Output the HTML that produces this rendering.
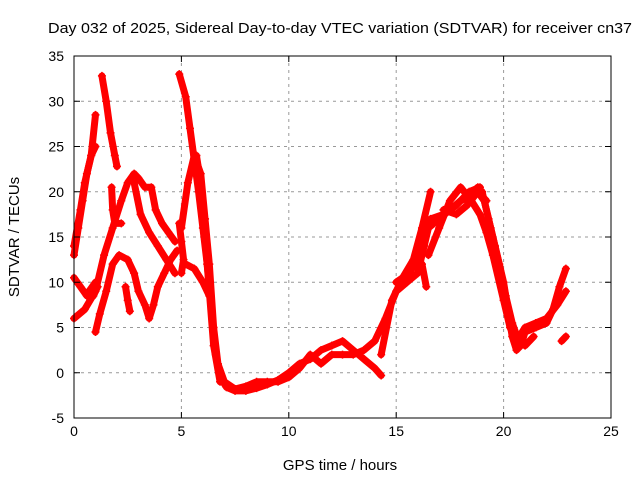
<!DOCTYPE html>
<html><head><meta charset="utf-8"><style>
body{margin:0;background:#fff;}
svg{display:block;font-family:"Liberation Sans",sans-serif;}
</style></head><body>
<svg id="chart" width="640" height="480" xmlns="http://www.w3.org/2000/svg">
<text x="48" y="33" font-size="15" textLength="584" lengthAdjust="spacingAndGlyphs">Day 032 of 2025, Sidereal Day-to-day VTEC variation (SDTVAR) for receiver cn37</text>
<text x="340" y="470" font-size="15" text-anchor="middle">GPS time / hours</text>
<text transform="translate(19,237) rotate(-90)" font-size="15" text-anchor="middle">SDTVAR / TECUs</text>
<g id="grid"></g><g id="marks"></g><g id="axes"></g>
</svg>
<script>
const xTicks=[0,5,10,15,20,25];
const yTicks=[-5,0,5,10,15,20,25,30,35];
const trackA=[[0,10.5],[0.3,9.5],[0.6,8.5],[0.9,8.5],[1.1,9.5],[1.0,10],[0.7,9]];
const trackB=[[0,6],[0.5,7],[1.0,9],[1.4,13],[1.8,16],[2.2,19],[2.5,21],[2.8,22],[3.0,21.5],[3.3,20.5],[3.6,20.5],[3.8,18],[4.1,16.5],[4.4,15.5],[4.7,14.5]];
const trackC=[[1.0,4.5],[1.2,6.5],[1.5,9],[1.8,12],[2.1,13],[2.5,12.5],[2.8,11],[3.0,9],[3.3,7.5],[3.5,6],[3.7,7.5],[3.9,9.5],[4.2,11],[4.5,12.5],[4.8,13.5]];
const trackD=[[2.8,21],[3.1,17.5],[3.5,15.5],[3.9,14],[4.3,12.5],[4.7,11]];
const trackE=[[0,13],[0.2,16],[0.4,19],[0.6,22],[0.8,24],[1.0,25]];
const trackF=[[0,14],[0.3,18],[0.5,21],[0.8,24],[1.0,28.5]];
const trackG=[[1.3,32.8],[1.5,30],[1.7,26.5],[1.9,24],[2.0,22.8]];
const trackH=[[1.75,20.5],[1.8,18],[1.9,16.5],[2.2,16.5]];
const trackI=[[2.4,9.5],[2.5,8],[2.6,6.8]];
const trackJ=[[4.9,16.5],[5.0,14.5],[5.1,12.5],[5.0,11]];
const trackK=[[4.9,33],[5.2,30.5],[5.4,27],[5.6,23.5],[5.8,20],[6.0,16],[6.2,12],[6.4,7],[6.6,2],[6.8,-0.5],[7.1,-1.6],[7.5,-2],[8,-2],[8.5,-1.7],[9,-1.3],[9.5,-0.8],[10,0],[10.5,1],[11,1.5],[11.5,2.5],[12,3],[12.5,3.5],[13,2.5],[13.5,1.5],[14,0.5],[14.3,-0.3]];
const trackL=[[5.0,16],[5.3,21],[5.6,24],[5.9,22],[6.1,17],[6.3,12],[6.5,5],[6.7,1],[7.0,-1],[7.5,-1.8],[8,-1.5],[8.5,-1],[9,-1],[9.5,-1],[10,-0.5],[10.5,0.5],[11,2],[11.5,1],[12,2],[12.5,2],[13,2],[13.5,2.5],[14,3.5],[14.5,6],[15,9],[15.5,10],[16,11],[16.3,14],[16.5,16],[17,17],[17.5,18],[18,19],[18.5,19.5],[18.8,20.5],[19,20],[19.3,17],[19.6,14],[20,10],[20.2,7],[20.4,4],[20.6,2.5],[20.8,3],[21,4.5],[21.5,5],[22,5.5],[22.3,7],[22.6,9.5],[22.9,11.5]];
const trackM=[[5.2,12],[5.6,11.5],[6.0,10],[6.3,8.5]];
const trackN=[[14.3,2],[14.8,8],[15.3,10.5],[15.8,12.5],[16.2,16],[16.6,20]];
const trackO=[[16.5,13],[17,16],[17.5,19],[18,20.5],[18.5,19],[18.9,17.5],[19.2,15.5],[19.5,13],[20,8],[20.3,5],[20.6,3.5],[21,5],[21.5,5.5],[22,6],[22.5,7.5],[22.9,9]];
const trackP=[[17.2,18],[17.8,17.5],[18.3,18.5],[18.8,20],[19.2,19]];
const trackQ=[[22.7,3.5],[22.9,4]];
const trackR=[[16.2,12],[16.4,9.5]];
const trackS=[[18.7,20.3],[19.1,19],[19.4,16],[19.8,12],[20.1,8.5],[20.4,5.5],[20.7,3.5],[21.0,3],[21.4,4]];
const trackT=[[5.7,24],[5.9,21],[6.1,15],[6.3,9],[6.5,3],[6.8,-1]];
const trackU=[[15,10],[15.6,11],[16,12.5],[16.6,17],[17.2,17.5],[17.8,18.5],[18.4,20],[18.9,20.5]];
const tracks=[trackA,trackB,trackC,trackD,trackE,trackF,trackG,trackH,trackI,trackJ,trackK,trackL,trackM,trackN,trackO,trackP,trackQ,trackR,trackS,trackT,trackU];
const X0=74,X1=611,Y0=418,Y1=56;
function sx(v){return X0+(v-0)/25*(X1-X0);}
function sy(v){return Y0-(v+5)/40*(Y0-Y1);}
const NS='http://www.w3.org/2000/svg';
function mk(t,a,p){const e=document.createElementNS(NS,t);for(const k in a)e.setAttribute(k,a[k]);p.appendChild(e);return e;}
const grid=document.getElementById('grid'),marks=document.getElementById('marks'),axes=document.getElementById('axes');
xTicks.forEach(t=>{
 if(t>0&&t<25){const g=mk('line',{x1:sx(t),x2:sx(t),y1:Y1,y2:Y0,stroke:'#999','stroke-dasharray':'3,4'},grid);
 
 }
 const l=mk('text',{x:sx(t),y:Y0+18,'font-size':14,'text-anchor':'middle'},axes);l.textContent=t;
 
 
 mk('line',{x1:sx(t),x2:sx(t),y1:Y0,y2:Y0-6,stroke:'#000'},axes);
 mk('line',{x1:sx(t),x2:sx(t),y1:Y1,y2:Y1+6,stroke:'#000'},axes);
});
yTicks.forEach(t=>{
 if(t>-5&&t<35){const g=mk('line',{x1:X0,x2:X1,y1:sy(t),y2:sy(t),stroke:'#999','stroke-dasharray':'3,4'},grid);
 
 }
 const l=mk('text',{x:X0-10,y:sy(t)+5,'font-size':14,'text-anchor':'end'},axes);l.textContent=t;
 
 
 mk('line',{x1:X0,x2:X0+6,y1:sy(t),y2:sy(t),stroke:'#000'},axes);
 mk('line',{x1:X1,x2:X1-6,y1:sy(t),y2:sy(t),stroke:'#000'},axes);
});
const fr=mk('rect',{x:X0,y:Y1,width:X1-X0,height:Y0-Y1,fill:'none',stroke:'#000'},axes);


tracks.forEach(tr=>{
 const pts=tr.map(p=>sx(p[0])+','+sy(p[1])).join(' ');
 const pl=mk('polyline',{points:pts,fill:'none',stroke:'#f00','stroke-width':7,'stroke-linejoin':'round','stroke-linecap':'round'},marks);
 
 
 tr.forEach(p=>{
  const x=sx(p[0]),y=sy(p[1]);
  const m=mk('path',{d:`M${x-4},${y}H${x+4}M${x},${y-4}V${y+4}`,stroke:'#f00','stroke-width':1.5},marks);
  
  
 });
});
</script>
</body></html>
